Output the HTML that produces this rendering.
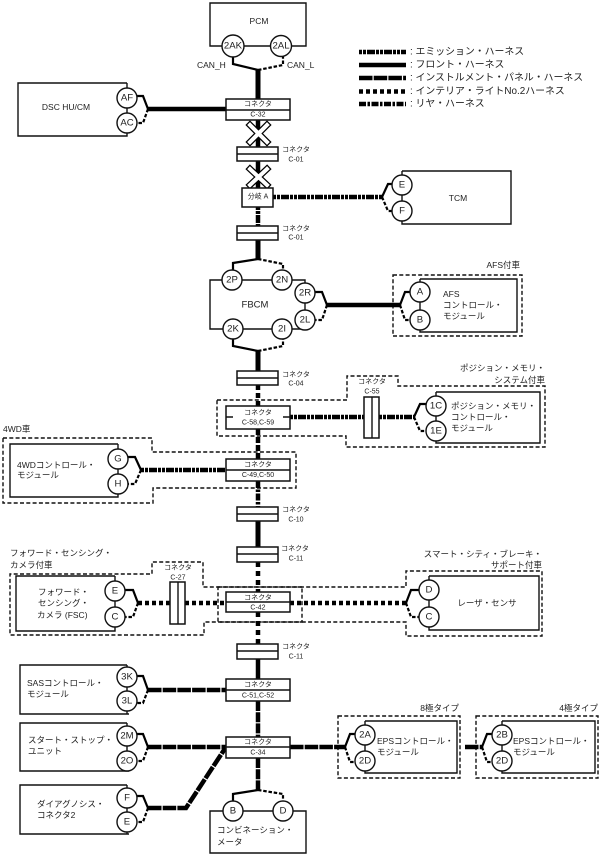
<!DOCTYPE html>
<html><head><meta charset="utf-8"><style>
html,body{margin:0;padding:0;background:#fff;width:601px;height:857px;overflow:hidden}
svg{display:block}
text{font-family:"Liberation Sans","Noto Sans CJK JP",sans-serif;font-size:8.5px;fill:#222;dominant-baseline:central}
.c{font-size:7px;text-anchor:middle}
.m{text-anchor:middle}
.e{text-anchor:end}
.p{font-size:9.6px;text-anchor:middle}
.w{fill:none;stroke:#000;stroke-linejoin:miter}
.fr{stroke-width:4.5}
.em{stroke-width:4.5;stroke-dasharray:3 1 3 1 8 1}
.ip{stroke-width:4.5;stroke-dasharray:13.5 1.2}
.in{stroke-width:4.5;stroke-dasharray:4 3}
.re{stroke-width:4.5;stroke-dasharray:7 1.5 2.5 1.5}
.s{fill:none;stroke:#000;stroke-width:2.2}
.d{fill:none;stroke:#000;stroke-width:2.2;stroke-dasharray:3.5 1.8}
.o{fill:none;stroke:#111;stroke-width:1.4;stroke-dasharray:4 2.3}
.b{fill:#fff;stroke:#111;stroke-width:1.5}
.n{fill:none;stroke:#111;stroke-width:1.4}
.k{fill:#fff;stroke:#111;stroke-width:1.4}
</style></head><body>
<svg width="601" height="857" viewBox="0 0 601 857" xmlns="http://www.w3.org/2000/svg">

<!-- dashed option outlines -->
<path class="o" d="M217 400H347V376H398V386H545V447H346V436H217Z"/>
<path class="o" d="M3 438H152V452H296V488H153V503H3Z"/>
<path class="o" d="M302 587H203V562H152V574H10V635H204V622H302Z"/>
<path class="o" d="M218 587H406V571H542V636H406V622H218Z"/>
<rect class="o" x="393" y="275" width="129" height="61"/>
<rect class="o" x="338" y="716" width="122" height="62"/>
<rect class="o" x="476" y="716" width="122" height="62"/>

<!-- main vertical harnesses -->
<path class="w fr" style="stroke-width:5" d="M258 70V99"/>
<path class="w fr" d="M258 120V188"/>
<path class="w em" d="M258 207V226"/>
<path class="w fr" style="stroke-width:5" d="M258 240V259"/>
<path class="w fr" style="stroke-width:5" d="M258 351V371"/>
<path class="w in" style="stroke-dasharray:5 3" d="M258 385V406"/>
<path class="w in" style="stroke-dasharray:6 2" d="M258 429V459"/>
<path class="w re" d="M258 481V507"/>
<path class="w fr" style="stroke-width:5" d="M258 521V547"/>
<path class="w in" style="stroke-dasharray:5 4" d="M258 562V592"/>
<path class="w in" style="stroke-dasharray:5 4" d="M258 612V644"/>
<path class="w fr" d="M258 659V679"/>
<path class="w ip" style="stroke-dasharray:10 1.2" d="M258 701V737"/>
<path class="w ip" style="stroke-dasharray:10 1.2" d="M258 758V790"/>

<!-- horizontal harnesses -->
<path class="w fr" d="M148 109H226"/>
<path class="w em" d="M273 197H382"/>
<path class="w fr" d="M327 305H400"/>
<path class="w em" d="M290 417H364"/>
<path class="w em" d="M379 417H414"/>
<path class="w em" d="M141 470H226"/>
<path class="w in" d="M138 603H170"/>
<path class="w in" d="M185 603H226"/>
<path class="w in" d="M290 603H406"/>
<path class="w ip" d="M148 690H226"/>
<path class="w ip" d="M148 747H226"/>
<path class="w ip" d="M148 808H186L226 747"/>
<path class="w ip" d="M290 747H345"/>
<path class="w ip" d="M465 747H482"/>

<!-- splits -->
<path class="s" d="M258 70L233 64V56"/><path class="d" d="M258 70L283 65V56"/>
<path class="s" d="M148 109L143 96H135"/><path class="d" d="M148 109L143 123H135"/>
<path class="s" d="M382 197L388 184H394"/><path class="d" d="M382 197L388 211H394"/>
<path class="s" d="M258 259L233 263V272"/><path class="d" d="M258 259L283 264V272"/>
<path class="s" d="M327 305L322 292H314"/><path class="d" d="M327 305L322 320H314"/>
<path class="s" d="M400 305L405 292H412"/><path class="d" d="M400 305L405 320H412"/>
<path class="s" d="M258 351L233 346V338"/><path class="d" d="M258 351L283 346V338"/>
<path class="s" d="M414 417L420 404H427"/><path class="d" d="M414 417L420 431H427"/>
<path class="s" d="M141 470L135 457H126"/><path class="d" d="M141 470L135 484H126"/>
<path class="s" d="M138 603L133 590H124"/><path class="d" d="M138 603L133 617H124"/>
<path class="s" d="M406 603L411 590H420"/><path class="d" d="M406 603L411 617H420"/>
<path class="s" d="M148 690L143 676H135"/><path class="d" d="M148 690L143 703H135"/>
<path class="s" d="M148 747L143 734H135"/><path class="d" d="M148 747L143 761H135"/>
<path class="s" d="M148 808L143 796H135"/><path class="d" d="M148 808L143 822H135"/>
<path class="s" d="M345 747L350 734H357"/><path class="d" d="M345 747L350 762H357"/>
<path class="s" d="M482 747L487 734H494"/><path class="d" d="M482 747L487 762H494"/>
<path class="s" d="M258 790L233 794V803"/><path class="d" d="M258 790L283 794V803"/>

<!-- X marks -->
<g fill="none" stroke-linecap="square">
<path d="M250 125L267 142M267 125L250 142" stroke="#000" stroke-width="6.5"/>
<path d="M250 125L267 142M267 125L250 142" stroke="#fff" stroke-width="4"/>
<path d="M250 169L267 185M267 169L250 185" stroke="#000" stroke-width="6.5"/>
<path d="M250 169L267 185M267 169L250 185" stroke="#fff" stroke-width="4"/>
</g>

<!-- module boxes -->
<path class="n" d="M233 46H210V3H306V46H281M233 46H281"/>
<path class="n" d="M127 83H18V136H127V83"/>
<path class="n" d="M402 171H511V224H402V171"/>
<path class="n" d="M305 293V280H210V329H305V293"/>
<path class="n" d="M420 279H517V332H420V279"/>
<path class="n" d="M436 392H540V443H436V392"/>
<path class="n" d="M118 444H10V497H118V444"/>
<path class="n" d="M115 576H16V631H115V576"/>
<path class="n" d="M429 576H539V630H429V576"/>
<path class="n" d="M127 665H20V714H129M127 665V714"/>
<path class="n" d="M127 723H20V771H129M127 723V771"/>
<path class="n" d="M127 785H20V834H129M127 785V834"/>
<path class="n" d="M233 811H210V853H306V811H233"/>
<path class="n" d="M365 721H457V773H365V721"/>
<path class="n" d="M502 721H595V773H502V721"/>

<!-- pin circles -->
<g class="k">
<circle cx="233" cy="46" r="11"/><circle cx="281" cy="46" r="10.500"/>
<circle cx="127" cy="98" r="10"/><circle cx="127" cy="123" r="10"/>
<circle cx="402" cy="185" r="10"/><circle cx="402" cy="211" r="10"/>
<circle cx="232" cy="280" r="10"/><circle cx="282" cy="280" r="10"/>
<circle cx="305" cy="293" r="10"/><circle cx="305" cy="320" r="10"/>
<circle cx="233" cy="329" r="10"/><circle cx="282" cy="329" r="10"/>
<circle cx="420" cy="292" r="10"/><circle cx="420" cy="320" r="10"/>
<circle cx="436" cy="406" r="10"/><circle cx="436" cy="431" r="10"/>
<circle cx="118" cy="459" r="10"/><circle cx="118" cy="484" r="10"/>
<circle cx="115" cy="591" r="10"/><circle cx="115" cy="617" r="10"/>
<circle cx="429" cy="590" r="10"/><circle cx="429" cy="617" r="10"/>
<circle cx="127" cy="677" r="10"/><circle cx="127" cy="701" r="10"/>
<circle cx="127" cy="736" r="10"/><circle cx="127" cy="761" r="10"/>
<circle cx="127" cy="798" r="10"/><circle cx="127" cy="822" r="10"/>
<circle cx="233" cy="811" r="10"/><circle cx="283" cy="811" r="10"/>
<circle cx="365" cy="735" r="10"/><circle cx="365" cy="761" r="10"/>
<circle cx="502" cy="735" r="10"/><circle cx="502" cy="761" r="10"/>
</g>
<text class="p" x="233" y="46">2AK</text><text class="p" x="281" y="46">2AL</text>
<text class="p" x="127" y="98">AF</text><text class="p" x="127" y="123">AC</text>
<text class="p" x="402" y="185">E</text><text class="p" x="402" y="211">F</text>
<text class="p" x="232" y="280">2P</text><text class="p" x="282" y="280">2N</text>
<text class="p" x="305" y="293">2R</text><text class="p" x="305" y="320">2L</text>
<text class="p" x="233" y="329">2K</text><text class="p" x="282" y="329">2I</text>
<text class="p" x="420" y="292">A</text><text class="p" x="420" y="320">B</text>
<text class="p" x="436" y="406">1C</text><text class="p" x="436" y="431">1E</text>
<text class="p" x="118" y="459">G</text><text class="p" x="118" y="484">H</text>
<text class="p" x="115" y="591">E</text><text class="p" x="115" y="617">C</text>
<text class="p" x="429" y="590">D</text><text class="p" x="429" y="617">C</text>
<text class="p" x="127" y="677">3K</text><text class="p" x="127" y="701">3L</text>
<text class="p" x="127" y="736">2M</text><text class="p" x="127" y="761">2O</text>
<text class="p" x="127" y="798">F</text><text class="p" x="127" y="822">E</text>
<text class="p" x="233" y="811">B</text><text class="p" x="283" y="811">D</text>
<text class="p" x="365" y="735">2A</text><text class="p" x="365" y="761">2D</text>
<text class="p" x="502" y="735">2B</text><text class="p" x="502" y="761">2D</text>

<!-- connectors -->
<g class="b">
<rect x="226" y="99" width="64" height="21"/>
<rect x="226" y="406" width="64" height="23"/>
<rect x="226" y="459" width="64" height="22"/>
<rect x="226" y="592" width="64" height="20"/>
<rect x="226" y="679" width="64" height="22"/>
<rect x="226" y="737" width="64" height="21"/>
<rect x="237" y="147" width="41" height="14"/>
<rect x="237" y="226" width="41" height="14"/>
<rect x="237" y="371" width="41" height="14"/>
<rect x="237" y="507" width="41" height="14"/>
<rect x="237" y="547" width="41" height="15"/>
<rect x="237" y="644" width="41" height="15"/>
<rect x="364" y="397" width="15" height="41"/>
<rect x="170" y="582" width="15" height="42"/>
<rect x="242" y="188" width="31" height="19"/>
</g>
<path class="n" d="M226 110H290M226 470H290M226 602H290M226 690H290M226 747H290M237 154H278M237 233H278M237 378H278M237 514H278M237 554H278M237 651H278M372 397V438M178 582V624M226 417H233M283 417H290"/>

<!-- connector labels -->
<text class="c" x="258" y="104.500">コネクタ</text><text class="c" x="258" y="115">C-32</text>
<text class="c" x="258" y="413">コネクタ</text><text class="c" x="258" y="423">C-58,C-59</text>
<text class="c" x="258" y="465">コネクタ</text><text class="c" x="258" y="475.500">C-49,C-50</text>
<text class="c" x="258" y="598">コネクタ</text><text class="c" x="258" y="608">C-42</text>
<text class="c" x="258" y="685">コネクタ</text><text class="c" x="258" y="696">C-51,C-52</text>
<text class="c" x="258" y="742.500">コネクタ</text><text class="c" x="258" y="753">C-34</text>
<text class="c" x="296" y="150">コネクタ</text><text class="c" x="296" y="160">C-01</text>
<text class="c" x="296" y="229">コネクタ</text><text class="c" x="296" y="238">C-01</text>
<text class="c" x="296" y="375">コネクタ</text><text class="c" x="296" y="384">C-04</text>
<text class="c" x="296" y="510">コネクタ</text><text class="c" x="296" y="520">C-10</text>
<text class="c" x="295" y="549">コネクタ</text><text class="c" x="296" y="559">C-11</text>
<text class="c" x="296" y="647">コネクタ</text><text class="c" x="296" y="657">C-11</text>
<text class="c" x="372" y="382">コネクタ</text><text class="c" x="372" y="392">C-55</text>
<text class="c" x="178" y="568">コネクタ</text><text class="c" x="178" y="578">C-27</text>
<text class="c" x="258" y="197">分岐 A</text>

<!-- module labels -->
<text class="m" x="259" y="21">PCM</text>
<text x="197" y="65">CAN_H</text><text x="287" y="65">CAN_L</text>
<text class="m" x="66" y="107">DSC HU/CM</text>
<text class="m" x="458" y="198">TCM</text>
<text class="m" x="255" y="305" style="font-size:9.500px">FBCM</text>
<text x="443" y="294">AFS</text><text x="443" y="305">コントロール・</text><text x="443" y="316">モジュール</text>
<text class="e" x="520" y="265">AFS付車</text>
<text x="451" y="406">ポジション・メモリ・</text><text x="451" y="417">コントロール・</text><text x="451" y="428">モジュール</text>
<text class="e" x="545" y="368">ポジション・メモリ・</text><text class="e" x="545" y="380">システム付車</text>
<text x="3" y="429">4WD車</text>
<text x="17" y="465">4WDコントロール・</text><text x="17" y="475">モジュール</text>
<text x="10" y="553">フォワード・センシング・</text><text x="10" y="565">カメラ付車</text>
<text x="38" y="592">フォワード・</text><text x="38" y="603">センシング・</text><text x="37" y="615">カメラ (FSC)</text>
<text class="m" x="487" y="603">レーザ・センサ</text>
<text class="e" x="542" y="554">スマート・シティ・ブレーキ・</text><text class="e" x="542" y="565">サポート付車</text>
<text x="27" y="683">SASコントロール・</text><text x="27" y="694">モジュール</text>
<text x="28" y="740">スタート・ストップ・</text><text x="28" y="751">ユニット</text>
<text x="37" y="804">ダイアグノシス・</text><text x="37" y="815">コネクタ2</text>
<text x="217" y="830">コンビネーション・</text><text x="217" y="842">メータ</text>
<text x="377" y="741">EPSコントロール・</text><text x="377" y="752">モジュール</text>
<text x="513" y="741">EPSコントロール・</text><text x="513" y="752">モジュール</text>
<text class="e" x="459" y="708">8極タイプ</text><text class="e" x="598" y="708">4極タイプ</text>

<!-- legend -->
<path class="w em" d="M359 52H406"/>
<path class="w fr" d="M359 65H406"/>
<path class="w ip" d="M359 78H406"/>
<path class="w in" d="M359 91.500H406"/>
<path class="w re" d="M359 104H406"/>
<text x="410" y="52" style="font-size:9.900px">: エミッション・ハーネス</text>
<text x="410" y="65" style="font-size:9.900px">: フロント・ハーネス</text>
<text x="410" y="78" style="font-size:9.900px">: インストルメント・パネル・ハーネス</text>
<text x="410" y="91.500" style="font-size:9.900px">: インテリア・ライトNo.2ハーネス</text>
<text x="410" y="104" style="font-size:9.900px">: リヤ・ハーネス</text>
</svg>
</body></html>
